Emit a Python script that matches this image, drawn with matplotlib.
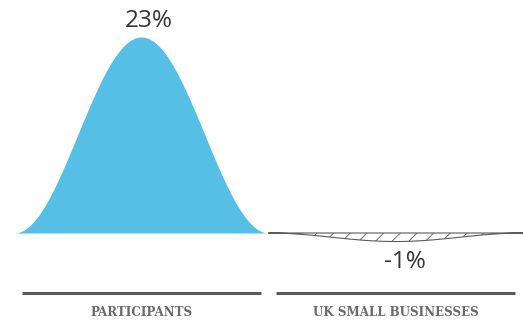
import numpy as np
import matplotlib
matplotlib.use("Agg")
import matplotlib.pyplot as plt

categories = ["PARTICIPANTS", "UK SMALL BUSINESSES"]
values = [23, -1]
value_labels = ["23%", "-1%"]

BLUE = "#56bfe6"
GREY = "#5a5a5a"

plt.rcParams["hatch.color"] = "#777777"
plt.rcParams["hatch.linewidth"] = 0.6

fig = plt.figure(figsize=(5.23, 3.23), dpi=100)
ax = fig.add_axes([0, 0, 1, 1])
ax.set_xlim(-0.055, 2.0)
ax.set_ylim(-10.56, 27.34)
ax.axis("off")

t = np.linspace(0, 1, 300)
bump = (1 - np.cos(2 * np.pi * t)) / 2

for i, (cat, v, lab) in enumerate(zip(categories, values, value_labels)):
    x = i + t
    if v >= 0:
        ax.fill_between(x, 0, v * bump, color=BLUE, lw=0)
        ax.text(i + 0.53, v + 0.45, lab, ha="center", va="bottom",
                fontsize=17.5, family="Open Sans", color="#333333")
    else:
        ax.fill_between(x, 0, v * bump, facecolor="white", edgecolor=GREY,
                        hatch="//", lw=0.8)
        ax.text(i + 0.535, v - 1.0, lab, ha="center", va="top",
                fontsize=17.5, family="Open Sans", color="#333333")

    # separator rule and category name underneath
    ax.plot([i + 0.03, i + 0.97], [-7.04, -7.04], color=GREY, lw=2.2,
            solid_capstyle="butt")
    ax.text(i + 0.5, -9.27, cat, ha="center", va="center", fontsize=8.6,
            family="DejaVu Serif", weight="bold", color="#6a6a6a")

fig.savefig("out.png", dpi=100)
